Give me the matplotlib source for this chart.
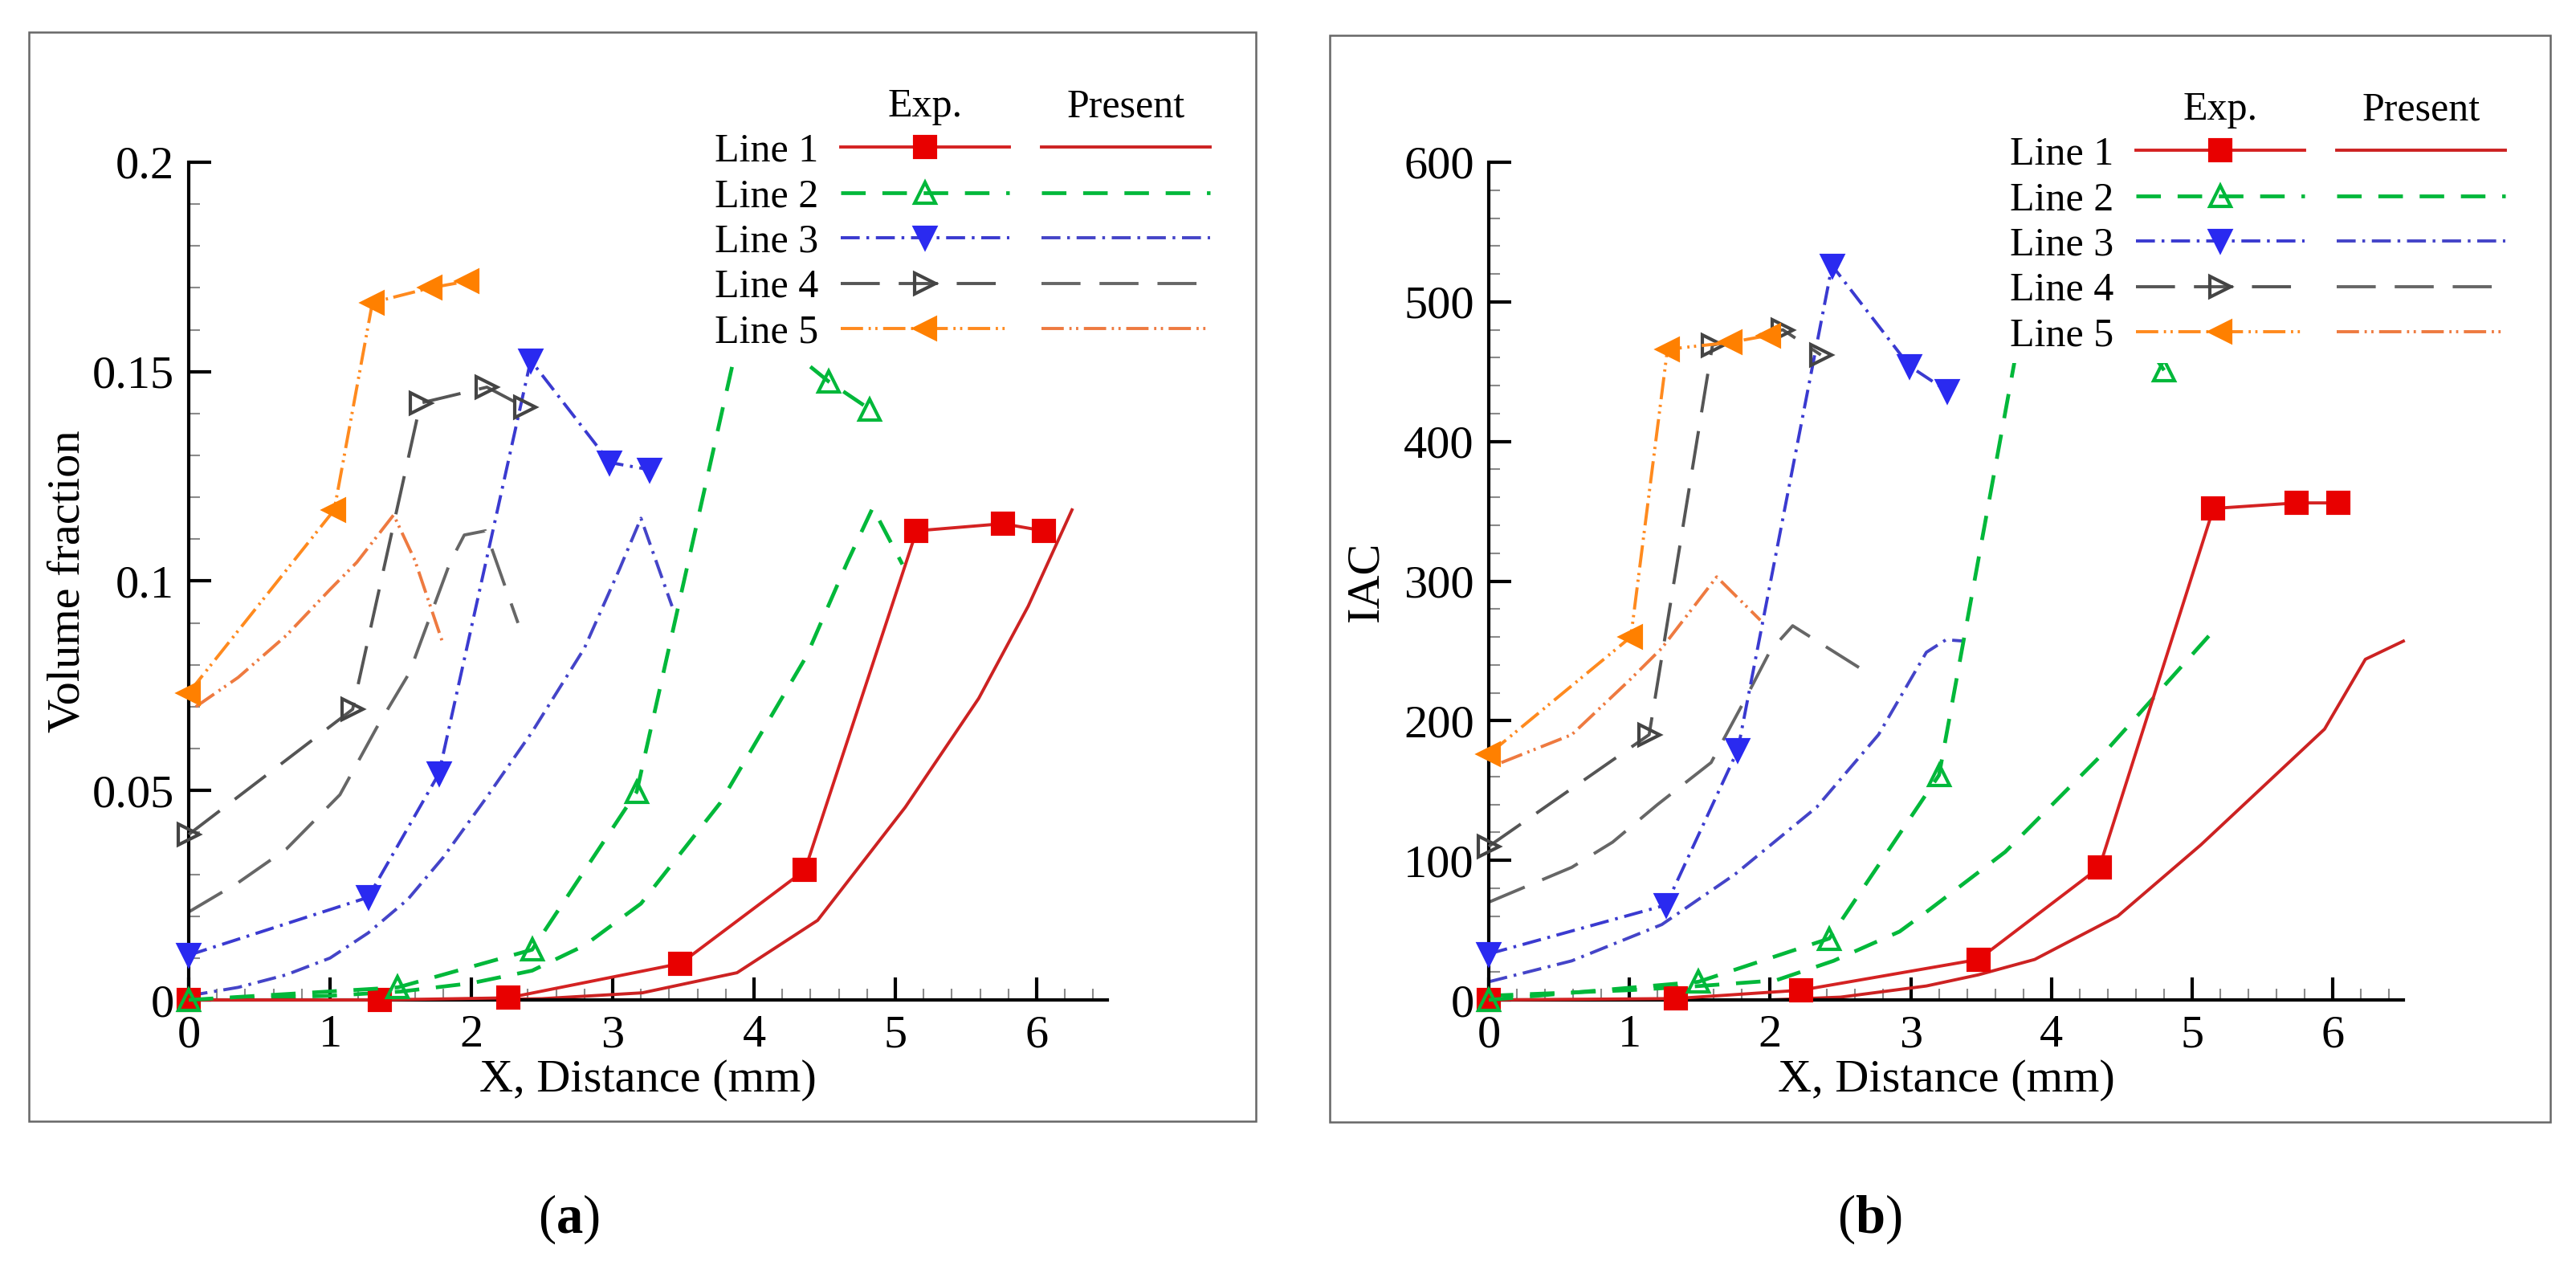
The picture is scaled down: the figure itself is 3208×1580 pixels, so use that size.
import matplotlib
matplotlib.use('Agg')
import matplotlib.pyplot as plt
from matplotlib.patches import Rectangle
from matplotlib.ticker import MultipleLocator, FuncFormatter

plt.rcParams['font.family'] = ['Liberation Serif', 'DejaVu Serif']
plt.rcParams['mathtext.fontset'] = 'custom'
plt.rcParams['mathtext.rm'] = 'Liberation Serif'
plt.rcParams['mathtext.bf'] = 'Liberation Serif:bold'
plt.rcParams['lines.scale_dashes'] = False

line_names = ['Line 1', 'Line 2', 'Line 3', 'Line 4', 'Line 5']

# (a) volume fraction, experiment
a_exp_x1 = [0, 1.35, 2.26, 3.48, 4.36, 5.15, 5.76, 6.05]
a_exp_y1 = [0, 0, 0.0005, 0.0087, 0.031, 0.112, 0.1137, 0.112]
a_exp_x2 = [0, 1.48, 2.43, 3.17, 3.93, 4.53, 4.82]
a_exp_y2 = [0, 0.003, 0.012, 0.0497, 0.164, 0.1476, 0.141]
a_exp_x3 = [0, 1.27, 1.77, 2.42, 2.98, 3.26]
a_exp_y3 = [0.0107, 0.0245, 0.054, 0.1527, 0.1283, 0.1266]
a_exp_x4 = [0, 1.16, 1.64, 2.11, 2.38]
a_exp_y4 = [0.0395, 0.0694, 0.1425, 0.1463, 0.1415]
a_exp_x5 = [0, 1.03, 1.30, 1.71, 1.97]
a_exp_y5 = [0.0733, 0.117, 0.1665, 0.170, 0.1716]

# (a) volume fraction, present
a_pre_x1 = [0, 1.0, 2.0, 2.5, 3.21, 3.88, 4.45, 5.07, 5.59, 5.94, 6.25]
a_pre_y1 = [0, 0, 0, 0.0003, 0.0017, 0.0065, 0.019, 0.046, 0.072, 0.094, 0.117]
a_pre_x2 = [0, 0.5, 1.0, 1.5, 2.0, 2.43, 2.8, 3.2, 3.76, 4.37, 4.66, 4.84, 5.05]
a_pre_y2 = [0, 0.0005, 0.001, 0.002, 0.004, 0.007, 0.013, 0.023, 0.047, 0.082, 0.1045, 0.1175, 0.104]
a_pre_x3 = [0, 0.35, 0.69, 1.0, 1.27, 1.55, 1.80, 2.1, 2.43, 2.8, 3.05, 3.2, 3.42]
a_pre_y3 = [0.001, 0.003, 0.006, 0.010, 0.016, 0.024, 0.034, 0.048, 0.064, 0.084, 0.103, 0.115, 0.094]
a_pre_x4 = [0, 0.35, 0.69, 1.07, 1.33, 1.56, 1.85, 1.95, 2.1, 2.33]
a_pre_y4 = [0.021, 0.028, 0.036, 0.049, 0.065, 0.078, 0.1045, 0.111, 0.112, 0.090]
a_pre_x5 = [0.05, 0.35, 0.69, 1.0, 1.19, 1.45, 1.6, 1.8]
a_pre_y5 = [0.070, 0.077, 0.087, 0.098, 0.1045, 0.1158, 0.105, 0.085]

# (b) IAC, experiment
b_exp_x1 = [0, 1.33, 2.22, 3.48, 4.34, 5.15, 5.74, 6.04]
b_exp_y1 = [0, 1, 7, 29, 95, 352, 356, 356]
b_exp_x2 = [0, 1.49, 2.42, 3.20, 3.95, 4.53, 4.80]
b_exp_y2 = [0, 13, 44, 161, 575, 490, 451]
b_exp_x3 = [0, 1.26, 1.77, 2.44, 2.99, 3.26]
b_exp_y3 = [33, 68, 179, 526, 454, 436]
b_exp_x4 = [0, 1.14, 1.59, 2.09, 2.36]
b_exp_y4 = [110, 190, 469, 480, 462]
b_exp_x5 = [0, 1.01, 1.27, 1.72, 1.99]
b_exp_y5 = [176, 260, 466, 471, 476]

# (b) IAC, present
b_pre_x1 = [0, 1.0, 2.0, 2.5, 3.11, 3.48, 3.88, 4.47, 5.06, 5.94, 6.23, 6.5]
b_pre_y1 = [0, 0, 0, 2, 10, 18, 29, 60, 111, 194, 244, 257]
b_pre_x2 = [0, 0.5, 1.0, 1.5, 2.04, 2.45, 2.92, 3.11, 3.67, 4.41, 5.12]
b_pre_y2 = [3, 5, 7, 10, 14, 28, 49, 63, 106, 181, 261]
b_pre_x3 = [0, 0.59, 1.23, 1.75, 2.33, 2.77, 3.11, 3.25, 3.38]
b_pre_y3 = [13, 28, 54, 90, 138, 190, 249, 258, 257]
b_pre_x4 = [0, 0.59, 0.88, 1.2, 1.58, 1.81, 2.0, 2.16, 2.68]
b_pre_y4 = [70, 95, 113, 140, 170, 213, 250, 268, 235]
b_pre_x5 = [0.09, 0.59, 1.0, 1.23, 1.62, 1.93]
b_pre_y5 = [170, 190, 229, 252, 303, 272]

# styles
exp_line_col = ['#d42222', '#00b83a', '#3a3ad0', '#555555', '#ff8a1e']
exp_mark_col = ['#e80000', '#00b83a', '#2a2af0', '#444444', '#ff8000']
exp_face = ['#e80000', 'none', '#2a2af0', 'none', '#ff8000']
markers = ['s', '^', 'v', '>', '<']
pre_col = ['#cc2222', '#00b83a', '#4444c8', '#666666', '#ee7a40']
dash_styles = [None, (0, (22, 15)), (0, (17, 6, 2.5, 6)), (0, (35, 17)),
               (0, (20, 5, 2, 4, 2, 5))]
line_w = [2.8, 3.4, 2.8, 2.8, 2.8]
FS = 42      # ticks and axis titles
LFS = 36     # legend

W, H = 3208, 1580
fig = plt.figure(figsize=(W / 100, H / 100), dpi=100)


def fx(px):
    return px / W


def fy(py):
    return 1 - py / H


def draw_panel(ax, exp_x, exp_y, pre_x, pre_y, ymax, ymaj, ymin, ylabel,
               ylabelpad, leg_anchor):
    handles = []
    pres = []
    for i in range(5):
        ls = '-' if dash_styles[i] is None else dash_styles[i]
        ln, = ax.plot(pre_x[i], pre_y[i], color=pre_col[i], lw=line_w[i],
                      linestyle=ls, clip_on=False, zorder=2)
        pres.append(ln)
    for i in range(5):
        ls = '-' if dash_styles[i] is None else dash_styles[i]
        ln, = ax.plot(exp_x[i], exp_y[i], color=exp_line_col[i], lw=line_w[i],
                      linestyle=ls, marker=markers[i], markersize=19,
                      markerfacecolor=exp_face[i],
                      markeredgecolor=exp_mark_col[i], markeredgewidth=3,
                      clip_on=False, zorder=3)
        handles.append(ln)

    ax.set_xlim(0, 6.5)
    ax.set_ylim(0, ymax)
    for s in ['top', 'right']:
        ax.spines[s].set_visible(False)
    for s in ['left', 'bottom']:
        ax.spines[s].set_linewidth(3)
    ax.xaxis.set_major_locator(MultipleLocator(1))
    ax.xaxis.set_minor_locator(MultipleLocator(0.2))
    ax.yaxis.set_major_locator(MultipleLocator(ymaj))
    ax.yaxis.set_minor_locator(MultipleLocator(ymin))
    ax.yaxis.set_major_formatter(FuncFormatter(lambda v, p: '%g' % round(v, 4)))
    ax.tick_params(which='major', direction='in', length=20, width=3,
                   labelsize=FS, pad=13)
    ax.tick_params(which='minor', direction='in', length=10, width=1.5,
                   color='#8a8a8a')
    ax.set_xlabel('X, Distance (mm)', fontsize=FS, labelpad=3)
    ax.set_ylabel(ylabel, fontsize=FS, labelpad=ylabelpad)

    leg = ax.legend(handles + pres, line_names + [''] * 5, ncol=2,
                    markerfirst=False, numpoints=1, handlelength=4.2,
                    handletextpad=0.55, columnspacing=0.25,
                    labelspacing=0.2, borderpad=0.2, frameon=True,
                    fancybox=False, edgecolor='none', facecolor='white',
                    framealpha=1, loc='upper right', borderaxespad=0,
                    bbox_to_anchor=leg_anchor,
                    bbox_transform=fig.transFigure, fontsize=LFS)
    leg.set_zorder(6)
    return leg


ax_a = fig.add_axes([fx(235), fy(1245), fx(1379 - 235), (1245 - 202) / H])
ax_b = fig.add_axes([fx(1854), fy(1245), fx(2993 - 1854), (1245 - 202) / H])

leg_a = draw_panel(ax_a,
                   [a_exp_x1, a_exp_x2, a_exp_x3, a_exp_x4, a_exp_x5],
                   [a_exp_y1, a_exp_y2, a_exp_y3, a_exp_y4, a_exp_y5],
                   [a_pre_x1, a_pre_x2, a_pre_x3, a_pre_x4, a_pre_x5],
                   [a_pre_y1, a_pre_y2, a_pre_y3, a_pre_y4, a_pre_y5],
                   0.2, 0.05, 0.01, 'Volume fraction', 3,
                   (fx(1517), fy(155)))
leg_b = draw_panel(ax_b,
                   [b_exp_x1, b_exp_x2, b_exp_x3, b_exp_x4, b_exp_x5],
                   [b_exp_y1, b_exp_y2, b_exp_y3, b_exp_y4, b_exp_y5],
                   [b_pre_x1, b_pre_x2, b_pre_x3, b_pre_x4, b_pre_x5],
                   [b_pre_y1, b_pre_y2, b_pre_y3, b_pre_y4, b_pre_y5],
                   600, 100, 20, 'IAC', 15,
                   (fx(3130), fy(159)))

# column headers above the legend handles
fig.canvas.draw()
renderer = fig.canvas.get_renderer()
for leg in [leg_a, leg_b]:
    lines = leg.get_lines()
    for idx, head in [(0, 'Exp.'), (5, 'Present')]:
        bb = lines[idx].get_window_extent(renderer)
        cx = (bb.x0 + bb.x1) / 2 / fig.bbox.width
        cy = (bb.y0 + bb.y1) / 2 / fig.bbox.height + 50 / H
        fig.text(cx, cy, head, ha='center', va='center', fontsize=LFS)

# panel frames
for x0, y0, x1, y1 in [(36, 40, 1564, 1396), (1656, 44, 3176, 1397)]:
    fig.add_artist(Rectangle((fx(x0), fy(y1)), fx(x1 - x0), (y1 - y0) / H,
                             transform=fig.transFigure, fill=False,
                             edgecolor='#666666', lw=1.8))

fig.text(fx(708), fy(1518), r'($\mathbf{a}$)', ha='center', va='center', fontsize=48)
fig.text(fx(2328), fy(1518), r'($\mathbf{b}$)', ha='center', va='center', fontsize=48)

fig.savefig('out.png', dpi=100, facecolor='white')
